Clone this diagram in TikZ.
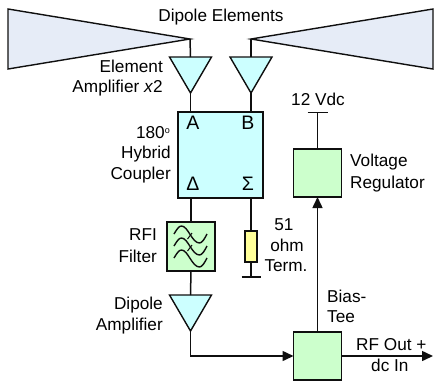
\documentclass[tikz,border=0pt]{standalone}
\usepackage{fontspec}
\setmainfont{Liberation Sans}
\usetikzlibrary{arrows.meta,calc}
\definecolor{dipfill}{RGB}{230,236,247}
\definecolor{cyanfill}{RGB}{204,255,255}
\definecolor{greenfill}{RGB}{204,255,204}
\definecolor{yelfill}{RGB}{255,255,153}
\definecolor{ln}{RGB}{15,15,15}
\tikzset{
  wire/.style={draw=ln,line width=1.5pt},
  shapeline/.style={draw=ln,line width=1.4pt,line join=miter},
  arrowwire/.style={wire,-{Triangle[length=11pt,width=10pt]}},
  box/.style={shapeline,rectangle,inner sep=0pt,outer sep=0pt},
  greenbox/.style={box,fill=greenfill,minimum width=48pt,minimum height=48pt},
  amp/.style={shapeline,fill=cyanfill},
  lbl/.style={font=\fontsize{17.2}{20}\selectfont,inner sep=0pt,text=black},
  port/.style={font=\fontsize{19.5}{22}\selectfont,inner sep=0pt,text=black},
  wave/.style={draw=ln,line width=1.4pt},
}
\newcommand{\ampat}[3]{% name, tip x, top y
  \coordinate (#1top) at (#2,#3);
  \coordinate (#1tip) at (#2,#3+36);
  \draw[amp] (#2-21,#3) -- (#2+21,#3) -- (#1tip) -- cycle;
}
\newcommand{\wavedraw}[1]{%
  \draw[wave] (174,#1+8) .. controls (177,#1+3) and (179,#1) .. (181.5,#1)
     .. controls (188,#1) and (192,#1+17) .. (199.5,#1+17)
     .. controls (202,#1+17) and (204.5,#1+13) .. (207,#1+8);
}
\begin{document}
\begin{tikzpicture}[x=1pt,y=-1pt]
\useasboundingbox (0,0) rectangle (434,381);
% dipoles
\coordinate (tipL) at (190,39);
\coordinate (tipR) at (251,39);
\draw[shapeline,fill=dipfill] (8,9) -- (tipL) -- (8,69) -- cycle;
\draw[shapeline,fill=dipfill] (433,9) -- (tipR) -- (433,69) -- cycle;
% amplifiers
\ampat{ampA}{190.5}{57}
\ampat{ampB}{251}{57}
\ampat{ampD}{190.5}{295}
% boxes
\node[box,fill=cyanfill,minimum width=85pt,minimum height=86pt] (coupler) at (220.5,155) {};
\node[box,fill=greenfill,minimum width=48pt,minimum height=49pt] (rfi) at (191,246.5) {};
\node[box,fill=yelfill,minimum width=12pt,minimum height=31pt] (term) at (251,246.5) {};
\node[greenbox] (reg) at (317.5,173) {};
\node[greenbox] (tee) at (317.5,356) {};
% named free ends
\coordinate (gnd) at (251,277);
\coordinate (vcc) at (317.5,112.5);
\coordinate (out) at (433,356);
% connectors
\draw[wire] (tipL) -- (ampAtop);
\draw[wire] (tipR) -- (ampBtop);
\draw[wire] (ampAtip) -- (coupler.north -| ampAtip);
\draw[wire] (ampBtip) -- (coupler.north -| ampBtip);
\draw[wire] (coupler.south -| rfi) -- (rfi.north);
\draw[wire] (rfi.south) -- (ampDtop);
\draw[wire] (coupler.south -| term) -- (term.north);
\draw[wire] (term.south) -- (gnd);
\draw[wire] ($(gnd)+(-9.5,0)$) -- ($(gnd)+(9.5,0)$);
\draw[arrowwire] (ampDtip) |- (tee.west);
\draw[arrowwire] (tee.north) -- (reg.south);
\draw[wire] (reg.north) -- (vcc);
\draw[wire] ($(vcc)+(-10,0)$) -- ($(vcc)+(10,0)$);
\draw[arrowwire] (tee.east) -- (out);
% filter waves
\wavedraw{226}
\wavedraw{238}
\wavedraw{250}
\draw[wave,line width=1pt] (187.5,239) -- (192,233);
\draw[wave,line width=1pt] (187.5,251) -- (192,245);
% text
\node[lbl] (t1) at (221,17) {Dipole Elements};
\node[lbl,anchor=east] (t2) at (163,66) {Element};
\node[lbl,anchor=east] (t3) at (163,88) {Amplifier \textit{x}2};
\node[port] (ta) at (193,123) {A};
\node[port] (tb) at (248,123) {B};
\node[port] (td) at (193,184) {Δ};
\node[port] (ts) at (248,184) {Σ};
\node[lbl,anchor=east] (t4) at (170,133) {180\raisebox{5pt}{\fontsize{9}{9}\selectfont o}};
\node[lbl,anchor=east] (t5) at (171,154) {Hybrid};
\node[lbl,anchor=east] (t6) at (171,175) {Coupler};
\node[lbl,anchor=east] (t7) at (157,235) {RFI};
\node[lbl,anchor=east] (t8) at (157,256) {Filter};
\node[lbl,anchor=east] (t9) at (163,305) {Dipole};
\node[lbl,anchor=east] (t10) at (163,326) {Amplifier};
\node[lbl] (t11) at (284,225) {51};
\node[lbl] (t12) at (287,245) {ohm};
\node[lbl] (t13) at (286,266) {Term.};
\node[lbl] (t14) at (318,99) {12 Vdc};
\node[lbl,anchor=west] (t15) at (350,162) {Voltage};
\node[lbl,anchor=west] (t16) at (350,184) {Regulator};
\node[lbl,anchor=west] (t17) at (327,296) {Bias-};
\node[lbl,anchor=west] (t18) at (327,317) {Tee};
\node[lbl,anchor=west] (t19) at (356,345) {RF Out +};
\node[lbl,anchor=west] (t20) at (371,365) {dc In};
\end{tikzpicture}
\end{document}
